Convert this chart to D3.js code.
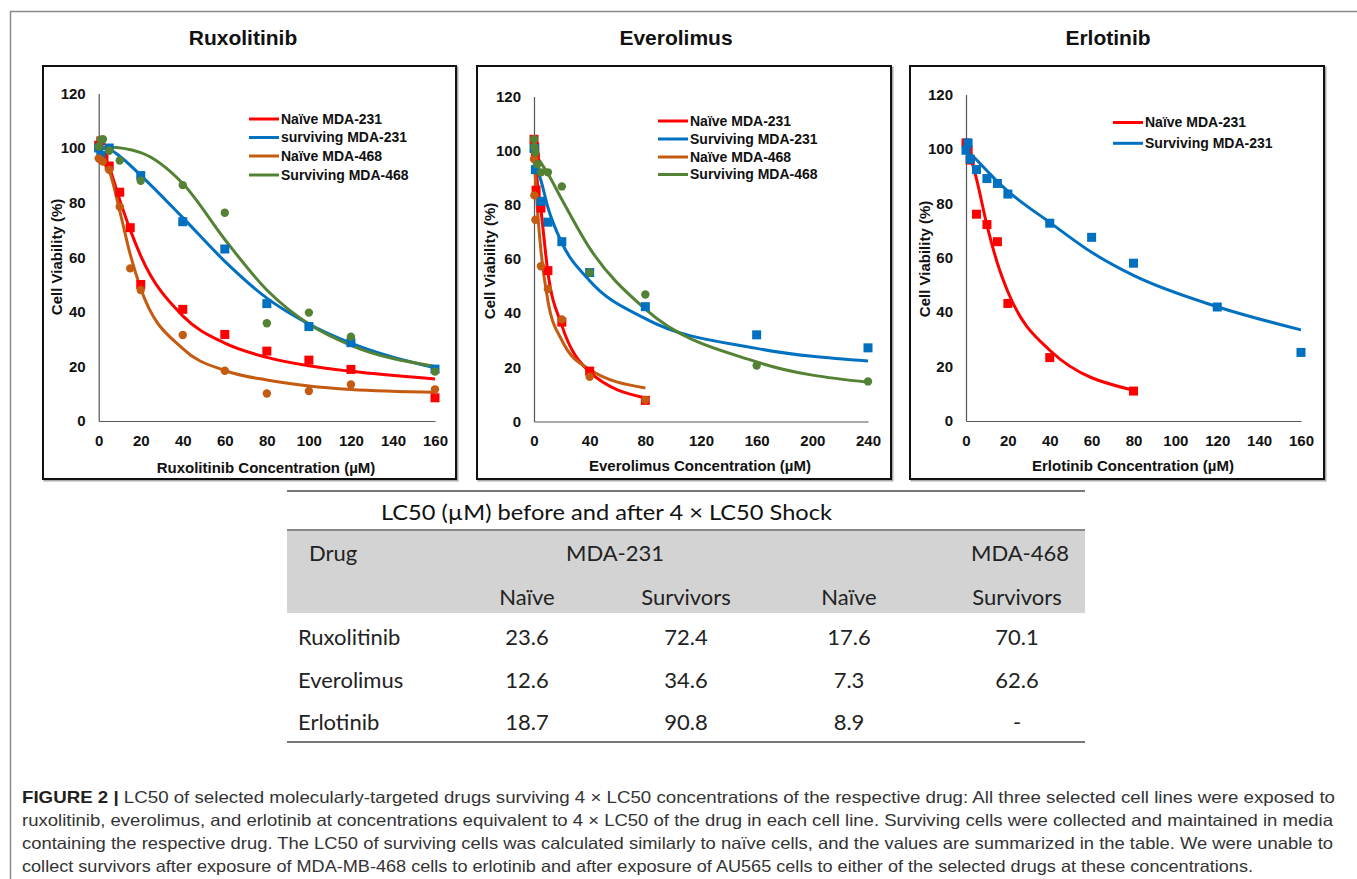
<!DOCTYPE html>
<html><head><meta charset="utf-8">
<script src="https://cdn.jsdelivr.net/npm/d3@7"></script>
<style>body{margin:0;background:#fff;} svg{display:block;}</style>
</head><body>
<svg id="c" width="1357" height="879"></svg>
<script>
// ---------------- DATA ----------------
const panelTitles = ["Ruxolitinib", "Everolimus", "Erlotinib"];
const xAxisTitles = ["Ruxolitinib Concentration (\u00b5M)", "Everolimus Concentration (\u00b5M)", "Erlotinib Concentration (\u00b5M)"];
const yAxisTitle = "Cell Viability  (%)";
const yTicks = [0, 20, 40, 60, 80, 100, 120];
const ruxXTicks = [0, 20, 40, 60, 80, 100, 120, 140, 160];
const everXTicks = [0, 40, 80, 120, 160, 200, 240];
const erlXTicks = [0, 20, 40, 60, 80, 100, 120, 140, 160];

const ruxLegend = ["Na\u00efve MDA-231", "surviving MDA-231", "Na\u00efve MDA-468", "Surviving MDA-468"];
const everLegend = ["Na\u00efve MDA-231", "Surviving MDA-231", "Na\u00efve MDA-468", "Surviving MDA-468"];
const erlLegend = ["Na\u00efve MDA-231", "Surviving MDA-231"];

// Ruxolitinib
const ruxN231Conc = [0, 1, 2.5, 5, 10, 15, 20, 40, 60, 80, 100, 120, 160];
const ruxN231Val  = [101, 102.6, 97, 93.4, 83.8, 70.8, 50, 40.9, 31.7, 25.6, 22.3, 18.9, 8.5];
const ruxN231FitConc = [0, 2.5, 5, 10, 15, 20, 40, 60, 80, 100, 120, 160];
const ruxN231Fit     = [100, 97.5, 93, 81, 70, 60.5, 38.5, 28.5, 23.3, 20.2, 18.2, 15.4];
const ruxS231Conc = [0, 1, 5, 20, 40, 60, 80, 100, 120, 160];
const ruxS231Val  = [100, 97.2, 100, 89.9, 73, 63, 43, 34.6, 28.7, 19];
const ruxS231FitConc = [0, 5, 10, 20, 40, 60, 80, 100, 120, 160];
const ruxS231Fit     = [100, 99.5, 97, 90, 74.5, 58.5, 45, 35.5, 28.5, 19.5];
const ruxN468Conc = [0, 1, 2, 5, 10, 15, 20, 40, 60, 80, 100, 120, 160];
const ruxN468Val  = [96.2, 95.6, 95, 92, 78.5, 55.9, 48, 31.5, 18.4, 10.1, 11, 13.4, 11.6];
const ruxN468FitConc = [0, 2.5, 5, 10, 15, 20, 40, 60, 80, 100, 120, 160];
const ruxN468Fit     = [96, 94.5, 91.5, 77, 61, 48.5, 26.5, 18.5, 15, 12.8, 11.5, 10.5];
const ruxS468Conc = [0, 1, 2, 5, 10, 20, 40, 60, 80, 100, 120, 160];
const ruxS468Val  = [100.5, 103, 103.2, 99, 95.4, 88, 86.4, 76.3, 35.8, 39.7, 30.9, 18.1];
const ruxS468FitConc = [0, 5, 20, 40, 60, 80, 100, 120, 160];
const ruxS468Fit     = [100, 100.3, 98.3, 87, 66.5, 48, 35.5, 27.7, 20];

// Everolimus
const everN231Conc = [0, 0.5, 1, 1.5, 5, 10, 20, 40, 80];
const everN231Val  = [104.2, 101.4, 97.5, 85.4, 78.8, 55.7, 36.7, 18.6, 7.8];
const everN231FitConc = [0, 1, 2.5, 5, 10, 20, 40, 80];
const everN231Fit     = [100, 95, 88, 78, 55, 35.5, 18.3, 8.7];
const everS231Conc = [0, 0.5, 1, 5, 10, 20, 40, 80, 160, 240];
const everS231Val  = [100.8, 100.8, 93, 81.3, 73.6, 66.4, 55, 42.4, 32, 27.2];
const everS231FitConc = [0, 1, 2.5, 5, 10, 20, 40, 80, 160, 240];
const everS231Fit     = [100, 96, 93, 89, 79, 66, 52, 38, 27, 22.3];
const everN468Conc = [0, 0.25, 1, 5, 10, 20, 40, 80];
const everN468Val  = [96.9, 83.5, 74.5, 57.3, 48.9, 37.7, 16.5, 8];
const everN468FitConc = [0, 1, 2.5, 5, 10, 20, 40, 80];
const everN468Fit     = [97, 90, 78, 63, 44.5, 30, 19.2, 12.4];
const everS468Conc = [0, 0.25, 1, 2.5, 5, 10, 20, 40, 80, 160, 240];
const everS468Val  = [104.2, 101.4, 99.3, 95, 92, 92, 86.8, 55, 46.9, 20.7, 14.8];
const everS468FitConc = [0, 2.5, 5, 10, 20, 40, 80, 160, 240];
const everS468Fit     = [100, 97.5, 95.5, 91.5, 82, 64, 41.5, 22, 14.5];

// Erlotinib
const erlN231Conc = [0, 1, 2, 5, 10, 15, 20, 40, 80];
const erlN231Val  = [102.2, 99.8, 95.9, 76, 72.2, 65.9, 43.2, 23.3, 11];
const erlN231FitConc = [0, 2.5, 5, 10, 15, 20, 40, 80];
const erlN231Fit     = [100, 96, 89, 72, 58, 47.5, 26, 11.3];
const erlS231Conc = [0, 1, 2, 5, 10, 15, 20, 40, 60, 80, 120, 160];
const erlS231Val  = [99.5, 102.2, 96.2, 92.4, 89.1, 87.3, 83.4, 72.7, 67.5, 58, 41.9, 25.2];
const erlS231FitConc = [0, 5, 10, 15, 20, 40, 60, 80, 120, 160];
const erlS231Fit     = [100, 96, 92, 88, 84.5, 73, 62, 53.5, 42, 33.5];

// Table
const tableTitle = "LC50 (\u00b5M) before and after 4 \u00d7 LC50 Shock";
const tableGroups = ["MDA-231", "MDA-468"];
const tableSubHeads = ["Na\u00efve", "Survivors", "Na\u00efve", "Survivors"];
const tableDrugs = ["Ruxolitinib", "Everolimus", "Erlotinib"];
const tableNaive231 = ["23.6", "12.6", "18.7"];
const tableSurv231  = ["72.4", "34.6", "90.8"];
const tableNaive468 = ["17.6", "7.3", "8.9"];
const tableSurv468  = ["70.1", "62.6", "-"];

// Caption
const captionBold = "FIGURE 2 |";
const captionLines = [
  " LC50 of selected molecularly-targeted drugs surviving 4 \u00d7 LC50 concentrations of the respective drug: All three selected cell lines were exposed to",
  "ruxolitinib, everolimus, and erlotinib at concentrations equivalent to 4 \u00d7 LC50 of the drug in each cell line. Surviving cells were collected and maintained in media",
  "containing the respective drug. The LC50 of surviving cells was calculated similarly to na\u00efve cells, and the values are summarized in the table. We were unable to",
  "collect survivors after exposure of MDA-MB-468 cells to erlotinib and after exposure of AU565 cells to either of the selected drugs at these concentrations."
];

// ---------------- STYLE / LAYOUT ----------------
const RED = "#FF0000", BLUE = "#0070C0", ORANGE = "#C55A11", GREEN = "#548235";
const svg = d3.select("#c");
const FONT = "'Liberation Sans', Arial, sans-serif";

// outer frame
svg.append("path").attr("d", "M10.5,879 V11.5 H1357").attr("fill", "none").attr("stroke", "#8a8a8a").attr("stroke-width", 1.5);

const panels = [
  { title: panelTitles[0], xTitle: xAxisTitles[0], xTicks: ruxXTicks, xMax: 160,
    box: [43, 66, 413, 413], titleX: 243, x0: 98.7, x1: 435, y0: 421, y1: 93.4,
    xTitleX: 266, xTitleY: 468, yTitleX: 57, yTitleY: 257,
    legend: { x1: 249, x2: 279, ys: [119, 137.5, 156, 175], labels: ruxLegend },
    series: [
      { c: RED, shape: "sq", pc: ruxN231Conc, pv: ruxN231Val, fc: ruxN231FitConc, fv: ruxN231Fit },
      { c: BLUE, shape: "sq", pc: ruxS231Conc, pv: ruxS231Val, fc: ruxS231FitConc, fv: ruxS231Fit },
      { c: ORANGE, shape: "ci", pc: ruxN468Conc, pv: ruxN468Val, fc: ruxN468FitConc, fv: ruxN468Fit },
      { c: GREEN, shape: "ci", pc: ruxS468Conc, pv: ruxS468Val, fc: ruxS468FitConc, fv: ruxS468Fit }
    ]},
  { title: panelTitles[1], xTitle: xAxisTitles[1], xTicks: everXTicks, xMax: 240,
    box: [477, 66, 414, 413], titleX: 676, x0: 534, x1: 868, y0: 421.5, y1: 96.5,
    xTitleX: 700, xTitleY: 466, yTitleX: 490, yTitleY: 261,
    legend: { x1: 658, x2: 688, ys: [121, 139, 157, 174.5], labels: everLegend },
    series: [
      { c: RED, shape: "sq", pc: everN231Conc, pv: everN231Val, fc: everN231FitConc, fv: everN231Fit },
      { c: BLUE, shape: "sq", pc: everS231Conc, pv: everS231Val, fc: everS231FitConc, fv: everS231Fit },
      { c: ORANGE, shape: "ci", pc: everN468Conc, pv: everN468Val, fc: everN468FitConc, fv: everN468Fit },
      { c: GREEN, shape: "ci", pc: everS468Conc, pv: everS468Val, fc: everS468FitConc, fv: everS468Fit }
    ]},
  { title: panelTitles[2], xTitle: xAxisTitles[2], xTicks: erlXTicks, xMax: 160,
    box: [910, 66, 414, 413], titleX: 1108, x0: 966, x1: 1301, y0: 421, y1: 94.5,
    xTitleX: 1133, xTitleY: 466, yTitleX: 925, yTitleY: 259,
    legend: { x1: 1113, x2: 1143, ys: [122.5, 143.3], labels: erlLegend },
    series: [
      { c: RED, shape: "sq", pc: erlN231Conc, pv: erlN231Val, fc: erlN231FitConc, fv: erlN231Fit },
      { c: BLUE, shape: "sq", pc: erlS231Conc, pv: erlS231Val, fc: erlS231FitConc, fv: erlS231Fit }
    ]}
];

panels.forEach(p => {
  const g = svg.append("g");
  g.append("rect").attr("x", p.box[0] + 1.5).attr("y", p.box[1] + 1.5).attr("width", p.box[2]).attr("height", p.box[3])
    .attr("fill", "none").attr("stroke", "#aaa").attr("stroke-width", 2);
  g.append("rect").attr("x", p.box[0]).attr("y", p.box[1]).attr("width", p.box[2]).attr("height", p.box[3])
    .attr("fill", "#fff").attr("stroke", "#111").attr("stroke-width", 2);
  g.append("text").attr("x", p.titleX).attr("y", 45).attr("text-anchor", "middle")
    .attr("font-family", FONT).attr("font-weight", "bold").attr("font-size", 21).attr("fill", "#111").text(p.title);

  const x = d3.scaleLinear().domain([0, p.xMax]).range([p.x0, p.x1]);
  const y = d3.scaleLinear().domain([0, 120]).range([p.y0, p.y1]);

  const ya = g.append("g").attr("transform", `translate(${x(0)},0)`)
    .call(d3.axisLeft(y).tickValues(yTicks).tickSize(0).tickSizeOuter(0).tickPadding(13));
  const xa = g.append("g").attr("transform", `translate(0,${y(0)})`)
    .call(d3.axisBottom(x).tickValues(p.xTicks).tickSize(0).tickSizeOuter(0).tickPadding(14));
  [ya, xa].forEach(a => {
    a.select(".domain").attr("stroke", "#555").attr("stroke-width", 1.2);
    a.selectAll("text").attr("font-family", FONT).attr("font-weight", "bold").attr("font-size", 15).attr("fill", "#111");
  });

  g.append("text").attr("x", p.xTitleX).attr("y", p.xTitleY).attr("dy", "0.35em").attr("text-anchor", "middle")
    .attr("font-family", FONT).attr("font-weight", "bold").attr("font-size", 15).attr("fill", "#111").text(p.xTitle);
  g.append("text").attr("transform", `translate(${p.yTitleX},${p.yTitleY}) rotate(-90)`).attr("dy", "0.35em")
    .attr("text-anchor", "middle").attr("font-family", FONT).attr("font-weight", "bold").attr("font-size", 15)
    .attr("fill", "#111").text(yAxisTitle);

  const line = d3.line().x(d => x(d[0])).y(d => y(d[1])).curve(d3.curveMonotoneX);
  p.series.forEach(s => {
    g.append("path").datum(d3.zip(s.fc, s.fv)).attr("d", line)
      .attr("fill", "none").attr("stroke", s.c).attr("stroke-width", 3).attr("stroke-linejoin", "round");
  });
  p.series.forEach(s => {
    const pts = d3.zip(s.pc, s.pv);
    if (s.shape === "sq") {
      g.selectAll(null).data(pts).join("rect")
        .attr("x", d => x(d[0]) - 4.5).attr("y", d => y(d[1]) - 4.5).attr("width", 9).attr("height", 9).attr("fill", s.c);
    } else {
      g.selectAll(null).data(pts).join("circle")
        .attr("cx", d => x(d[0])).attr("cy", d => y(d[1])).attr("r", 4.2).attr("fill", s.c);
    }
  });

  p.legend.labels.forEach((lab, i) => {
    const yy = p.legend.ys[i];
    g.append("line").attr("x1", p.legend.x1).attr("x2", p.legend.x2).attr("y1", yy).attr("y2", yy)
      .attr("stroke", p.series[i].c).attr("stroke-width", 3);
    g.append("text").attr("x", p.legend.x2 + 2).attr("y", yy).attr("dy", "0.35em")
      .attr("font-family", FONT).attr("font-weight", "bold").attr("font-size", 14).attr("fill", "#111").text(lab);
  });
});

// ---------------- TABLE ----------------
const TF = "Lato, 'Open Sans', sans-serif";
const tg = svg.append("g");
tg.append("line").attr("x1", 287).attr("x2", 1085).attr("y1", 491).attr("y2", 491).attr("stroke", "#777").attr("stroke-width", 2);
tg.append("text").attr("x", 381).attr("y", 520).attr("font-family", TF).attr("font-size", 22).attr("fill", "#111")
  .attr("textLength", 451).attr("lengthAdjust", "spacingAndGlyphs").text(tableTitle);
tg.append("rect").attr("x", 287).attr("y", 530).attr("width", 798).attr("height", 83).attr("fill", "#d3d3d3");
tg.append("line").attr("x1", 287).attr("x2", 1085).attr("y1", 530).attr("y2", 530).attr("stroke", "#888").attr("stroke-width", 2);
tg.append("line").attr("x1", 287).attr("x2", 1085).attr("y1", 742).attr("y2", 742).attr("stroke", "#777").attr("stroke-width", 2);

const colX = [527, 686, 849, 1017];
const groupX = [615, 1020];
const rowY = [637, 680, 722];
function ttext(x, y, t, anchor) {
  tg.append("text").attr("x", x).attr("y", y).attr("dy", "0.35em").attr("text-anchor", anchor || "middle")
    .attr("font-family", TF).attr("font-size", 22).attr("fill", "#222").text(t);
}
ttext(333, 553, "Drug");
tableGroups.forEach((t, i) => ttext(groupX[i], 553, t));
tableSubHeads.forEach((t, i) => ttext(colX[i], 597, t));
tableDrugs.forEach((d, r) => {
  ttext(298, rowY[r], d, "start");
  ttext(colX[0], rowY[r], tableNaive231[r]);
  ttext(colX[1], rowY[r], tableSurv231[r]);
  ttext(colX[2], rowY[r], tableNaive468[r]);
  ttext(colX[3], rowY[r], tableSurv468[r]);
});

// ---------------- CAPTION ----------------
const capY = [797, 820, 843, 866];
const capW = [1313, 1311, 1311, 1231];
captionLines.forEach((l, i) => {
  const t = svg.append("text").attr("x", 22).attr("y", capY[i]).attr("dy", "0.35em")
    .attr("font-family", FONT).attr("font-size", 16.5).attr("fill", "#333")
    .attr("textLength", capW[i]).attr("lengthAdjust", "spacingAndGlyphs");
  if (i === 0) t.append("tspan").attr("font-weight", "bold").attr("fill", "#231f20").text(captionBold);
  t.append("tspan").text(l);
});
</script></body></html>
